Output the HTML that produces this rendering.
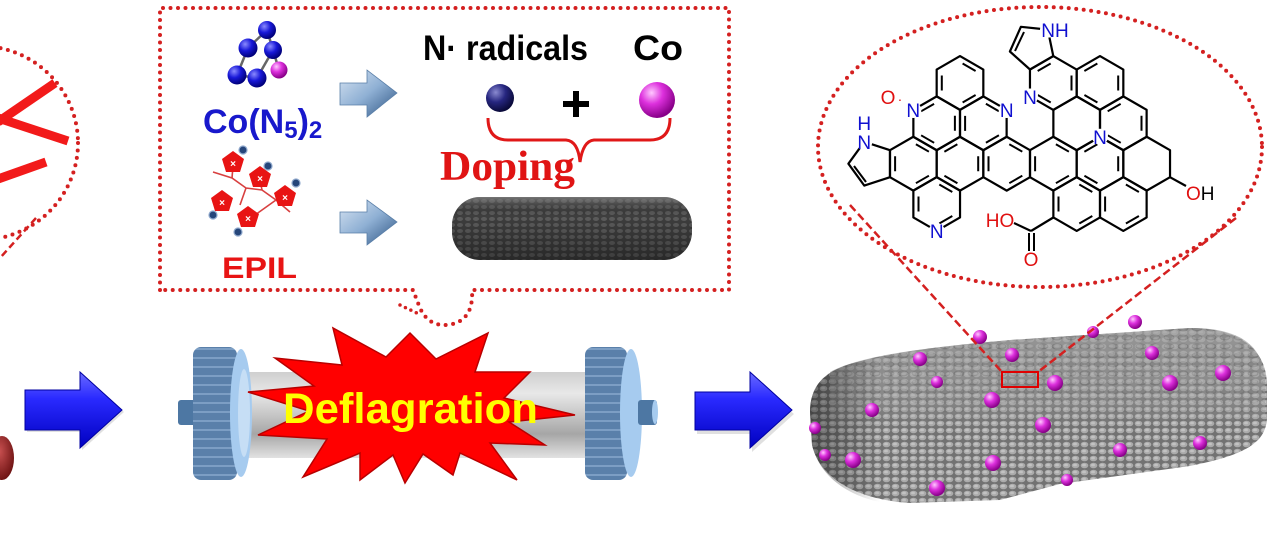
<!DOCTYPE html>
<html><head><meta charset="utf-8"><style>
html,body{margin:0;padding:0;background:#fff;}
svg{display:block;}
</style></head><body>
<svg width="1280" height="543" viewBox="0 0 1280 543" xmlns="http://www.w3.org/2000/svg">
<defs>
  <polygon id="hx" points="0,-26.94 23.33,-13.47 23.33,13.47 0,26.94 -23.33,13.47 -23.33,-13.47" fill="none" stroke="#000" stroke-width="2.2" stroke-linejoin="round"/>
  <polygon id="ia" points="0,-21 18.2,-10.5 18.2,10.5 0,21 -18.2,10.5 -18.2,-10.5" fill="none" stroke="#000" stroke-width="2" stroke-dasharray="0 3 15 24"/>
  <polygon id="ib" points="0,-21 18.2,-10.5 18.2,10.5 0,21 -18.2,10.5 -18.2,-10.5" fill="none" stroke="#000" stroke-width="2" stroke-dasharray="0 3 15 24" stroke-dashoffset="21"/>
  <linearGradient id="blueArr" x1="0" y1="0" x2="0" y2="1">
    <stop offset="0" stop-color="#6a6aff"/><stop offset="0.35" stop-color="#2a2aff"/><stop offset="1" stop-color="#0000c0"/>
  </linearGradient>
  <linearGradient id="lbArr" x1="0" y1="0" x2="1" y2="1">
    <stop offset="0" stop-color="#d8e4f2"/><stop offset="0.5" stop-color="#8fb0d4"/><stop offset="1" stop-color="#2c5382"/>
  </linearGradient>
  <linearGradient id="tube" x1="0" y1="0" x2="0" y2="1">
    <stop offset="0" stop-color="#cfcfcf"/><stop offset="0.25" stop-color="#e8e8e8"/><stop offset="0.5" stop-color="#c6c6c6"/><stop offset="0.72" stop-color="#a6a6a6"/><stop offset="0.9" stop-color="#cdcdcd"/><stop offset="1" stop-color="#e2e2e2"/>
  </linearGradient>
  <pattern id="disk" width="10" height="9" patternUnits="userSpaceOnUse">
    <rect width="10" height="9" fill="#5a80aa"/><rect y="6" width="10" height="2" fill="#7c9ec4"/>
  </pattern>
  <radialGradient id="ballB" cx="0.35" cy="0.3" r="0.7">
    <stop offset="0" stop-color="#8a8aff"/><stop offset="0.5" stop-color="#1818d8"/><stop offset="1" stop-color="#00007a"/>
  </radialGradient>
  <radialGradient id="ballN" cx="0.35" cy="0.3" r="0.7">
    <stop offset="0" stop-color="#8a8ad0"/><stop offset="0.5" stop-color="#262680"/><stop offset="1" stop-color="#0a0a3a"/>
  </radialGradient>
  <radialGradient id="ballM" cx="0.35" cy="0.3" r="0.7">
    <stop offset="0" stop-color="#ffc8ff"/><stop offset="0.45" stop-color="#dd30dd"/><stop offset="1" stop-color="#880088"/>
  </radialGradient>
  <radialGradient id="blob" cx="0.4" cy="0.35" r="0.7">
    <stop offset="0" stop-color="#c85050"/><stop offset="1" stop-color="#6a1010"/>
  </radialGradient>
  <pattern id="bub" width="9" height="7" patternUnits="userSpaceOnUse">
    <rect width="9" height="7" fill="#727272"/><ellipse cx="4.5" cy="3.5" rx="3.8" ry="2.8" fill="#ababab"/><ellipse cx="4" cy="3" rx="2" ry="1.3" fill="#c2c2c2"/>
  </pattern>
  <pattern id="hon" width="14" height="9" patternUnits="userSpaceOnUse">
    <rect width="14" height="9" fill="#a4a4a4"/><ellipse cx="7" cy="4.5" rx="5.5" ry="3" fill="#7e7e7e"/><ellipse cx="7" cy="4" rx="4.5" ry="2" fill="#959595"/>
  </pattern>
  <pattern id="slab" width="8" height="6" patternUnits="userSpaceOnUse">
    <rect width="8" height="6" fill="#3e3e3e"/><ellipse cx="4" cy="3" rx="3" ry="2" fill="#5c5c5c"/>
  </pattern>
  <linearGradient id="slabG" x1="0" y1="0" x2="0" y2="1">
    <stop offset="0" stop-color="#9a9a9a" stop-opacity="0.6"/><stop offset="0.3" stop-color="#000" stop-opacity="0"/><stop offset="1" stop-color="#000" stop-opacity="0.35"/>
  </linearGradient>
  <linearGradient id="spongeEnd" x1="0" y1="0" x2="1" y2="0">
    <stop offset="0" stop-color="#000" stop-opacity="0.4"/><stop offset="1" stop-color="#000" stop-opacity="0"/>
  </linearGradient>
  <linearGradient id="topFade" x1="0" y1="0" x2="0" y2="1">
    <stop offset="0" stop-color="#fff" stop-opacity="1"/><stop offset="0.7" stop-color="#fff" stop-opacity="0.6"/><stop offset="1" stop-color="#fff" stop-opacity="0"/>
  </linearGradient>
  <mask id="topMask"><rect x="800" y="320" width="480" height="110" fill="url(#topFade)"/></mask>
</defs>

<!-- LEFT PARTIAL PANEL -->
<ellipse cx="-20" cy="143" rx="98" ry="97" fill="none" stroke="#d42020" stroke-width="4" stroke-linecap="round" stroke-dasharray="0 7.5"/>
<line x1="55" y1="83" x2="-2" y2="122" stroke="#f21a1a" stroke-width="9"/>
<line x1="-2" y1="118" x2="68" y2="141" stroke="#f21a1a" stroke-width="9"/>
<line x1="-2" y1="179" x2="46" y2="162" stroke="#f21a1a" stroke-width="9"/>
<line x1="36" y1="218" x2="0" y2="258" stroke="#d42020" stroke-width="2.5" stroke-dasharray="7 4"/>
<ellipse cx="2" cy="458" rx="12" ry="22" fill="url(#blob)"/>

<!-- blue arrow 1 -->
<path d="M27,394 L82,394 L82,374 L124,412 L82,450 L82,432 L27,432 Z" fill="#000" opacity="0.12"/>
<path d="M25,390 L80,390 L80,372 L122,410 L80,448 L80,430 L25,430 Z" fill="url(#blueArr)" stroke="#0000a0" stroke-width="1"/>

<!-- TOP MIDDLE DOTTED BOX -->
<path d="M160,290 L160,8 L729,8 L729,290 L472,290 Q474,322 447,325 Q428,326 420,308 Q416,298 413,290 Z" fill="none" stroke="#d42020" stroke-width="4" stroke-linecap="round" stroke-dasharray="0 7.5"/>
<path d="M400,305 L419,314" fill="none" stroke="#d42020" stroke-width="3.5" stroke-linecap="round" stroke-dasharray="0 6"/>

<!-- Co(N5)2 molecule -->
<g stroke="#666" stroke-width="2.5">
  <line x1="267" y1="30" x2="248" y2="48"/><line x1="267" y1="30" x2="273" y2="50"/>
  <line x1="248" y1="48" x2="237" y2="75"/><line x1="237" y1="75" x2="257" y2="78"/>
  <line x1="273" y1="50" x2="257" y2="78"/><line x1="273" y1="50" x2="279" y2="70"/>
</g>
<circle cx="267" cy="30" r="9" fill="url(#ballB)"/>
<circle cx="248" cy="48" r="9.5" fill="url(#ballB)"/>
<circle cx="273" cy="50" r="9" fill="url(#ballB)"/>
<circle cx="237" cy="75" r="9.5" fill="url(#ballB)"/>
<circle cx="279" cy="70" r="8.5" fill="url(#ballM)"/>
<circle cx="257" cy="78" r="9.5" fill="url(#ballB)"/>
<text x="203" y="133" font-family="Liberation Sans, sans-serif" font-weight="bold" font-size="34" fill="#1818cc">Co(N<tspan font-size="24" dy="5">5</tspan><tspan dy="-5">)</tspan><tspan font-size="24" dy="5">2</tspan></text>

<!-- EPIL icon -->
<g fill="none" stroke="#d84040" stroke-width="1.6">
  <polyline points="213,172 232,178 246,188 262,190 276,200 290,212"/>
  <line x1="232" y1="178" x2="233" y2="166"/><line x1="246" y1="188" x2="240" y2="205"/>
  <line x1="262" y1="190" x2="260" y2="180"/><line x1="276" y1="200" x2="285" y2="197"/>
  <line x1="276" y1="200" x2="255" y2="215"/>
</g>
<g fill="#e81414">
  <polygon points="233,151 244,159 240,172 226,172 222,159"/>
  <polygon points="260,166 271,174 267,187 253,187 249,174"/>
  <polygon points="222,190 233,198 229,211 215,211 211,198"/>
  <polygon points="285,185 296,193 292,206 278,206 274,193"/>
  <polygon points="248,206 259,214 255,227 241,227 237,214"/>
</g>
<g fill="#fff" font-family="Liberation Sans, sans-serif" font-weight="bold" font-size="10" text-anchor="middle">
  <text x="233" y="167">×</text><text x="260" y="182">×</text><text x="222" y="206">×</text><text x="285" y="201">×</text><text x="248" y="222">×</text>
</g>
<g fill="#26467a" stroke="#8fa8cc" stroke-width="1.2">
  <circle cx="243" cy="150" r="4"/><circle cx="268" cy="166" r="4"/><circle cx="296" cy="183" r="4"/><circle cx="213" cy="215" r="4"/><circle cx="238" cy="232" r="4"/>
</g>
<text x="222" y="278" font-family="Liberation Sans, sans-serif" font-weight="bold" font-size="30" fill="#e81414" textLength="75" lengthAdjust="spacingAndGlyphs">EPIL</text>

<!-- light blue arrows -->
<path d="M340,83 L367,83 L367,70 L397,93 L367,117 L367,105 L340,105 Z" fill="url(#lbArr)" stroke="#5a7fa8" stroke-width="0.8"/>
<path d="M340,212 L367,212 L367,200 L397,222 L367,245 L367,233 L340,233 Z" fill="url(#lbArr)" stroke="#5a7fa8" stroke-width="0.8"/>

<!-- N radicals + Co -->
<text x="423" y="60" font-family="Liberation Sans, sans-serif" font-weight="bold" font-size="35" fill="#000" textLength="165" lengthAdjust="spacingAndGlyphs">N· radicals</text>
<text x="633" y="60" font-family="Liberation Sans, sans-serif" font-weight="bold" font-size="35" fill="#000" textLength="50" lengthAdjust="spacingAndGlyphs">Co</text>
<circle cx="500" cy="98" r="14" fill="url(#ballN)"/>
<rect x="563" y="101" width="26" height="6" fill="#000"/>
<rect x="573" y="91" width="6" height="26" fill="#000"/>
<circle cx="657" cy="100" r="18" fill="url(#ballM)"/>
<path d="M488,118 Q488,140 508,140 L566,140 Q578,141 580,162 Q583,141 594,140 L650,140 Q670,140 670,118" fill="none" stroke="#e01818" stroke-width="3"/>
<text x="440" y="180" font-family="Liberation Serif, serif" font-weight="bold" font-size="42" fill="#e01414" textLength="135" lengthAdjust="spacingAndGlyphs">Doping</text>

<!-- small slab -->
<rect x="452" y="197" width="240" height="63" rx="28" ry="28" fill="url(#slab)"/>
<rect x="452" y="197" width="240" height="63" rx="28" ry="28" fill="url(#slabG)"/>

<!-- REACTOR -->
<rect x="245" y="372" width="345" height="86" fill="url(#tube)"/>
<rect x="178" y="400" width="18" height="25" rx="3" fill="#4d77a3"/>
<rect x="193" y="347" width="44" height="133" rx="8" fill="url(#disk)"/>
<ellipse cx="241" cy="413" rx="11" ry="64" fill="#a6cbef"/>
<ellipse cx="244" cy="413" rx="6" ry="44" fill="#c6def5"/>
<rect x="585" y="347" width="42" height="133" rx="8" fill="url(#disk)"/>
<ellipse cx="631" cy="413" rx="11" ry="64" fill="#a6cbef"/>
<rect x="638" y="400" width="19" height="25" rx="3" fill="#4d77a3"/>
<ellipse cx="655" cy="412" rx="3" ry="12" fill="#a6cbef"/>

<!-- starburst -->
<polygon points="248,392 314,386 275,358 342,365 333,328 386,357 410,333 436,359 488,333 475,372 530,372 504,398 575,415 509,422 545,445 490,443 517,480 460,453 453,475 423,454 405,483 393,455 360,480 360,453 303,477 327,439 258,435 309,411" fill="#ff0000" stroke="#b80000" stroke-width="1.5" stroke-linejoin="miter"/>
<text x="283" y="423" font-family="Liberation Sans, sans-serif" font-weight="bold" font-size="43" fill="#ffff00" textLength="255" lengthAdjust="spacingAndGlyphs">Deflagration</text>

<!-- blue arrow 2 -->
<path d="M697,396 L752,396 L752,376 L794,414 L752,452 L752,434 L697,434 Z" fill="#000" opacity="0.12"/>
<path d="M695,392 L750,392 L750,372 L792,410 L750,448 L750,430 L695,430 Z" fill="url(#blueArr)" stroke="#0000a0" stroke-width="1"/>

<!-- SPONGE -->
<path d="M810,412 C810,386 824,372 850,364 C880,355 920,348 1010,340 L1190,328 C1240,328 1267,350 1267,385 L1267,418 C1266,445 1240,456 1190,466 L1060,484 L1000,500 L910,503 C860,500 820,480 812,445 Z" fill="url(#bub)"/>
<path d="M830,372 C860,356 920,348 1010,340 L1190,328 C1240,328 1262,345 1265,378 L1265,420 L830,430 Z" fill="url(#hon)" mask="url(#topMask)" opacity="0.75"/>
<path d="M810,412 C810,386 824,372 850,364 L880,356 L880,502 C850,496 820,478 812,445 Z" fill="url(#spongeEnd)"/>
<g fill="url(#ballM)">
  <circle cx="920" cy="359" r="7"/><circle cx="937" cy="382" r="6"/><circle cx="872" cy="410" r="7"/><circle cx="853" cy="460" r="8"/>
  <circle cx="825" cy="455" r="6"/><circle cx="815" cy="428" r="6"/><circle cx="937" cy="488" r="8"/><circle cx="992" cy="400" r="8"/>
  <circle cx="980" cy="337" r="7"/><circle cx="993" cy="463" r="8"/><circle cx="1012" cy="355" r="7"/><circle cx="1055" cy="383" r="8"/>
  <circle cx="1043" cy="425" r="8"/><circle cx="1067" cy="480" r="6"/><circle cx="1120" cy="450" r="7"/><circle cx="1152" cy="353" r="7"/>
  <circle cx="1170" cy="383" r="8"/><circle cx="1223" cy="373" r="8"/><circle cx="1200" cy="443" r="7"/><circle cx="1135" cy="322" r="7"/>
  <circle cx="1093" cy="332" r="6"/>
</g>
<rect x="1002" y="372" width="36" height="15" fill="none" stroke="#e00000" stroke-width="2"/>

<!-- RIGHT ELLIPSE + connectors -->
<ellipse cx="1040" cy="147" rx="222" ry="140" fill="none" stroke="#d42020" stroke-width="4" stroke-linecap="round" stroke-dasharray="0 7.5"/>
<line x1="850" y1="205" x2="1002" y2="372" stroke="#d42020" stroke-width="2.5" stroke-dasharray="8 4"/>
<line x1="1236" y1="218" x2="1038" y2="372" stroke="#d42020" stroke-width="2.5" stroke-dasharray="8 4"/>

<!-- MOLECULE -->
<g>
  <use href="#hx" x="960" y="83"/><use href="#ia" x="960" y="83"/>
  <use href="#hx" x="1053.3" y="83"/><use href="#ib" x="1053.3" y="83"/>
  <use href="#hx" x="1100" y="83"/><use href="#ib" x="1100" y="83"/>
  <use href="#hx" x="936.7" y="123.3"/><use href="#ib" x="936.7" y="123.3"/>
  <use href="#hx" x="983.3" y="123.3"/><use href="#ia" x="983.3" y="123.3"/>
  <use href="#hx" x="1076.7" y="123.3"/>
  <use href="#hx" x="1123.3" y="123.3"/><use href="#ib" x="1123.3" y="123.3"/>
  <use href="#hx" x="913.3" y="163.7"/><use href="#ia" x="913.3" y="163.7"/>
  <use href="#hx" x="960" y="163.7"/><use href="#ib" x="960" y="163.7"/>
  <use href="#hx" x="1006.7" y="163.7"/><use href="#ia" x="1006.7" y="163.7"/>
  <use href="#hx" x="1053.3" y="163.7"/><use href="#ia" x="1053.3" y="163.7"/>
  <use href="#hx" x="1100" y="163.7"/><use href="#ib" x="1100" y="163.7"/>
  <use href="#hx" x="1146.7" y="163.7"/>
  <use href="#hx" x="936.7" y="204"/><use href="#ia" x="936.7" y="204"/>
  <use href="#hx" x="1076.7" y="204"/><use href="#ia" x="1076.7" y="204"/>
  <use href="#hx" x="1123.3" y="204"/><use href="#ia" x="1123.3" y="204"/>
  <polygon points="890,150.2 864.3,141.8 848.4,163.7 864.3,185.6 890,177.2" fill="none" stroke="#000" stroke-width="2.2" stroke-linejoin="round"/>
  <line x1="854" y1="166" x2="866" y2="182" stroke="#000" stroke-width="2"/>
  <polygon points="1030,69.5 1009.9,51.5 1020.9,26.8 1047.8,29.6 1053.3,56.1" fill="none" stroke="#000" stroke-width="2.2" stroke-linejoin="round"/>
  <line x1="1015" y1="51" x2="1024" y2="32" stroke="#000" stroke-width="2"/>
  <line x1="1053.3" y1="217.5" x2="1031" y2="231" stroke="#000" stroke-width="2.2"/>
  <line x1="1031" y1="231" x2="1014" y2="223" stroke="#000" stroke-width="2.2"/>
  <line x1="1029" y1="233" x2="1029" y2="251" stroke="#000" stroke-width="2"/>
  <line x1="1034" y1="233" x2="1034" y2="251" stroke="#000" stroke-width="2"/>
  <line x1="1170" y1="177.2" x2="1186" y2="186" stroke="#000" stroke-width="2.2"/>
</g>
<g fill="#fff">
  <circle cx="913.3" cy="110" r="8"/><circle cx="864.3" cy="141.8" r="8"/><circle cx="1006.7" cy="110" r="8"/>
  <circle cx="1030" cy="96.5" r="8"/><circle cx="1048" cy="29.6" r="8"/><circle cx="1100" cy="136.7" r="8"/>
  <circle cx="936.7" cy="231" r="8"/>
</g>
<g font-family="Liberation Sans, sans-serif" font-size="19" text-anchor="middle">
  <text x="888" y="104" fill="#e01010">O</text>
  <text x="900" y="104" fill="#e01010" font-size="14">·</text>
  <text x="913.3" y="117" fill="#1010d0">N</text>
  <text x="864.3" y="130" fill="#1010d0">H</text>
  <text x="864.3" y="149" fill="#1010d0">N</text>
  <text x="1006.7" y="117" fill="#1010d0">N</text>
  <text x="1030" y="104" fill="#1010d0">N</text>
  <text x="1055" y="37" fill="#1010d0">NH</text>
  <text x="1100" y="144" fill="#1010d0">N</text>
  <text x="936.7" y="238" fill="#1010d0">N</text>
  <text x="1000" y="227" fill="#e01010">HO</text>
  <text x="1031" y="266" fill="#e01010">O</text>
</g>
<text x="1186" y="200" font-family="Liberation Sans, sans-serif" font-size="19" fill="#e01010">O<tspan fill="#000">H</tspan></text>
</svg>
</body></html>
